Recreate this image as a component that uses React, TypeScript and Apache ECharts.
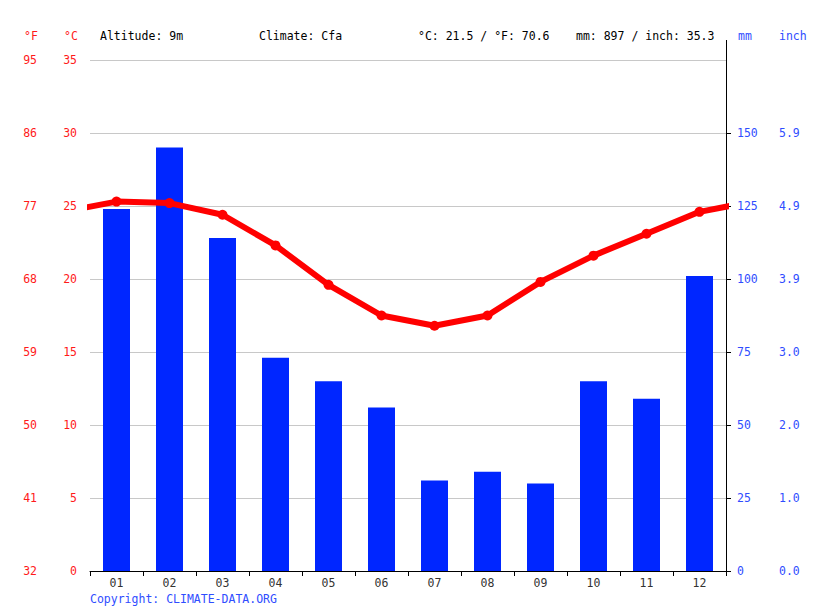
import * as echarts from 'echarts';
import React, { useEffect, useRef } from 'react';

const months = ['01', '02', '03', '04', '05', '06', '07', '08', '09', '10', '11', '12'];
// monthly precipitation, mm
const precipitation = [124, 145, 114, 73, 65, 56, 31, 34, 30, 65, 59, 101];
// monthly mean temperature, °C
const temperature = [25.3, 25.2, 24.4, 22.3, 19.6, 17.5, 16.8, 17.5, 19.8, 21.6, 23.1, 24.6];
const mmTicks = [0, 25, 50, 75, 100, 125, 150];
const headerTexts = ['Altitude: 9m', 'Climate: Cfa', '°C: 21.5 / °F: 70.6', 'mm: 897 / inch: 35.3'];

const FONT = '"DejaVu Sans Mono", monospace';
const RED = '#ff1a1a';
const BLUE = '#2f4dff';

const App: React.FC = () => {
  const chartRef = useRef<HTMLDivElement>(null);

  useEffect(() => {
    if (!chartRef.current) return;
    const chart = echarts.init(chartRef.current, null, { renderer: 'svg' });

    // line wraps Dec -> Jan at both edges, clipped by the grid
    const lineData = [
      [0, temperature[11]],
      ...temperature.map((t, i) => [i + 1, t]),
      [13, temperature[0]],
    ];

    const label = (color: string) => ({
      color,
      fontFamily: FONT,
      fontSize: 11.5,
    });

    const headerX = [100, 259, 418, 576];
    const text = (s: string, x: number, y: number, fill: string) => ({
      type: 'text',
      x,
      y,
      style: { text: s, fill, font: `11.5px ${FONT}`, textVerticalAlign: 'middle' },
    });

    chart.setOption({
      animation: false,
      grid: { left: 90, right: 89, top: 60, bottom: 40 },
      xAxis: [
        {
          type: 'category',
          data: months,
          boundaryGap: true,
          axisLine: { lineStyle: { color: '#000', width: 1 } },
          axisTick: { show: true, length: 5, lineStyle: { color: '#000' } },
          axisLabel: { ...label('#333'), margin: 6 },
        },
        { type: 'value', min: 0.5, max: 12.5, show: false },
      ],
      yAxis: [
        {
          type: 'value',
          min: 0,
          max: 35,
          interval: 5,
          position: 'left',
          axisLine: { show: false },
          axisTick: { show: false },
          axisLabel: { ...label(RED), margin: 13 },
          splitLine: { lineStyle: { color: '#c8c8c8', width: 1 } },
        },
        {
          type: 'value',
          min: 0,
          max: 35,
          interval: 5,
          position: 'left',
          offset: 40,
          axisLine: { show: false },
          axisTick: { show: false },
          axisLabel: {
            ...label(RED),
            margin: 13,
            formatter: (v: number) => String(Math.round(32 + (v * 9) / 5)),
          },
          splitLine: { show: false },
        },
        {
          type: 'value',
          min: 0,
          max: 175,
          interval: 25,
          position: 'right',
          axisLine: { show: true, lineStyle: { color: '#000', width: 1 } },
          axisTick: { show: true, length: 5, customValues: mmTicks, lineStyle: { color: '#000' } },
          axisLabel: { ...label(BLUE), margin: 11, customValues: mmTicks },
          splitLine: { show: false },
        },
        {
          type: 'value',
          min: 0,
          max: 175,
          interval: 25,
          position: 'right',
          offset: 42,
          axisLine: { show: false },
          axisTick: { show: false },
          axisLabel: {
            ...label(BLUE),
            margin: 11,
            customValues: mmTicks,
            formatter: (v: number) => (v / 25.4).toFixed(1),
          },
          splitLine: { show: false },
        },
      ],
      series: [
        {
          type: 'bar',
          xAxisIndex: 0,
          yAxisIndex: 2,
          data: precipitation,
          barWidth: 27,
          itemStyle: { color: '#0026ff' },
          z: 2,
        },
        {
          type: 'line',
          xAxisIndex: 1,
          yAxisIndex: 0,
          data: lineData,
          clip: true,
          symbol: 'circle',
          symbolSize: 10,
          lineStyle: { color: '#ff0000', width: 6 },
          itemStyle: { color: '#ff0000' },
          z: 3,
        },
      ],
      graphic: [
        { type: 'line', shape: { x1: 726.5, y1: 40, x2: 726.5, y2: 60 }, style: { stroke: '#000', lineWidth: 1 } },
        text('°F', 24, 36, RED),
        text('°C', 64, 36, RED),
        ...headerTexts.map((s, i) => text(s, headerX[i], 36, '#000')),
        text('mm', 738, 36, BLUE),
        text('inch', 779, 36, BLUE),
        text('Copyright: CLIMATE-DATA.ORG', 90, 599, BLUE),
      ],
    });

    return () => {
      chart.dispose();
    };
  }, []);

  return (
    <div
      ref={chartRef}
      style={{ position: 'absolute', left: 0, top: 0, width: 815, height: 611, background: '#fff' }}
    ></div>
  );
};

export default App;
